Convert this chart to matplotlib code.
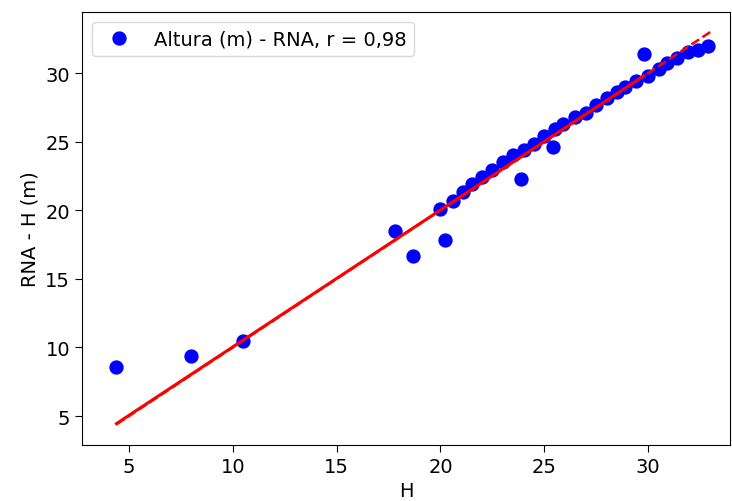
import matplotlib
matplotlib.use("Agg")
import matplotlib.pyplot as plt

h_obs = [4.4, 8.0, 10.5, 17.8, 18.7, 20.0, 20.2, 20.6, 21.1, 21.5, 22.0, 22.5,
         23.0, 23.5, 23.9, 24.0, 24.5, 25.0, 25.4, 25.5, 25.9, 26.5, 27.0,
         27.5, 28.0, 28.5, 28.9, 29.4, 29.8, 30.0, 30.5, 30.9, 31.4, 31.9,
         32.4, 32.9]
h_rna = [8.6, 9.4, 10.5, 18.5, 16.7, 20.1, 17.8, 20.7, 21.3, 21.9, 22.4, 22.9,
         23.5, 24.0, 22.3, 24.4, 24.8, 25.4, 24.6, 25.9, 26.3, 26.8, 27.1,
         27.7, 28.2, 28.6, 29.0, 29.4, 31.4, 29.8, 30.3, 30.7, 31.1, 31.5,
         31.7, 32.0]

fit_x = [4.4, 29.8]
fit_y = [4.45, 29.8]
ref_x = [4.4, 33.0]
ref_y = [4.4, 33.0]

plt.rcParams['font.size'] = 14

fig = plt.figure(figsize=(7.32, 5.02), dpi=100)
ax = fig.add_axes([82 / 732, 56 / 502, 648 / 732, 433 / 502])

ax.plot(h_obs, h_rna, 'o', color='blue', markersize=9.3,
        label='Altura (m) - RNA, r = 0,98')
ax.plot(ref_x, ref_y, '--', color='red', linewidth=1.8)
ax.plot(fit_x, fit_y, '-', color='red', linewidth=2.2)

ax.set_xlim(2.74, 33.94)
ax.set_ylim(2.89, 34.45)
ax.set_xticks([5, 10, 15, 20, 25, 30])
ax.set_yticks([5, 10, 15, 20, 25, 30])
ax.tick_params(length=5)
ax.set_xlabel('H')
ax.set_ylabel('RNA - H (m)')
ax.legend(loc='upper left')

fig.savefig('out.png', dpi=100)
